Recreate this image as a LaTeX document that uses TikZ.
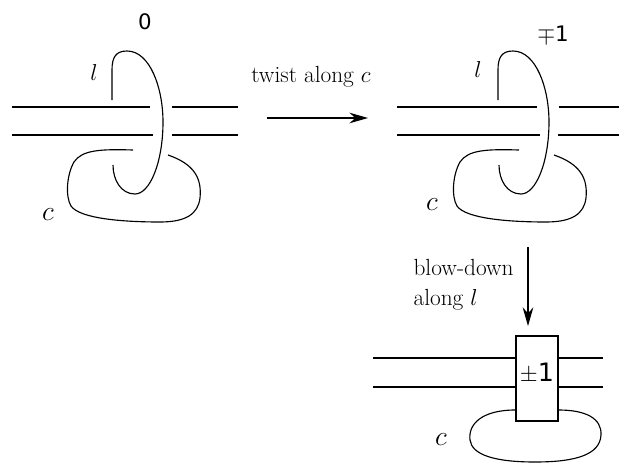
\documentclass[tikz,border=0pt]{standalone}
\usepackage{fontspec}
\newfontfamily\labelfont{DejaVu Sans}
\usetikzlibrary{arrows.meta}

\tikzset{every picture/.style={line width=0.85pt}}

\begin{document}
\begin{tikzpicture}[x=0.75pt,y=0.75pt,yscale=-1,xscale=1,
	txt/.style={inner sep=0pt,font=\fontsize{17.5}{22}\selectfont},
	frm/.style={inner sep=0pt,font=\labelfont\fontsize{16}{19}\selectfont},
	mvar/.style={inner sep=0pt,font=\fontsize{22}{26}\selectfont},
	move/.style={-{Stealth[length=14pt,width=8pt]}}]
	\useasboundingbox (0,0) rectangle (619,464);
	
	%Straight Lines (left picture)
	\draw (12,107) -- (150,107) (172,107) -- (238,107) ;
	\draw (12,135) -- (153,135) (172,135) -- (238,135) ;
	%Curve Lines (l)
	\draw (112,100) -- (112,70) .. controls (112,57) and (116,51) .. (127,51) .. controls (150,51) and (163,88) .. (163,122) .. controls (163,162) and (150,194) .. (135,194) .. controls (121,194) and (113,180) .. (113,165) ;
	%Curve Lines (c)
	\draw (133,150) .. controls (100,149) and (82,150) .. (74,162) .. controls (67,174) and (65,196) .. (71,206) .. controls (80,219) and (125,222) .. (160,222) .. controls (186,222) and (198,214) .. (200,198) .. controls (202,178) and (194,164) .. (168,155) ;
	
	%Straight Lines (right picture)
	\draw (397,107) -- (537,107) (559,107) -- (619,107) ;
	\draw (397,135) -- (540,135) (558,135) -- (619,135) ;
	%Curve Lines (l)
	\draw (498,100) -- (498,70) .. controls (498,57) and (502,51) .. (513,51) .. controls (536,51) and (549,88) .. (549,122) .. controls (549,162) and (536,194) .. (521,194) .. controls (507,194) and (499,180) .. (499,165) ;
	%Curve Lines (c)
	\draw (519,150) .. controls (486,149) and (468,150) .. (460,162) .. controls (453,174) and (451,196) .. (457,206) .. controls (466,219) and (511,222) .. (546,222) .. controls (572,222) and (584,214) .. (586,198) .. controls (588,178) and (580,164) .. (554,155) ;
	
	% Box Node
	\node [draw,inner sep=0pt,minimum width=31.5pt,minimum height=63.75pt] (twistbox) at (537,378.5) {};
	\node [frm,font=\labelfont\fontsize{19}{22}\selectfont] (twistnum) at (537,373) {$\pm$1};
	%Straight Lines (bottom picture)
	\draw (373,358) -- (twistbox.west |- 0,358) (twistbox.east |- 0,358) -- (603,358) ;
	\draw (373,387) -- (twistbox.west |- 0,387) (twistbox.east |- 0,387) -- (603,387) ;
	%Curve Lines (c)
	\draw (twistbox.west |- 0,410) .. controls (482,410) and (468,424) .. (470,440) .. controls (472,455) and (495,462) .. (535,462) .. controls (575,462) and (600,455) .. (601,435) .. controls (602,418) and (585,410) .. (twistbox.east |- 0,410) ;
	
	%Arrows
	\coordinate (twistS) at (267,118);
	\coordinate (twistE) at (368,118);
	\draw [move] (twistS) -- (twistE) ;
	\coordinate (blowS) at (528,247);
	\coordinate (blowE) at (528,326);
	\draw [move] (blowS) -- (blowE) ;
	
	% Text Node
	\node [frm] (frameA) at (145,22) {0};
	% Text Node
	\node [frm] (frameB) at (553,35) {$\mp$1};
	% Text Node
	\node [txt,font=\fontsize{19}{22}\selectfont] (lA) at (94,72) {$l$};
	% Text Node
	\node [txt,font=\fontsize{19}{22}\selectfont] (lB) at (478,69) {$l$};
	% Text Node
	\node [mvar] (cA) at (48,215) {$c$};
	% Text Node
	\node [mvar] (cB) at (432,205) {$c$};
	% Text Node
	\node [mvar] (cC) at (441,440) {$c$};
	% Text Node
	\node [txt,anchor=base] (twistlbl) at (311,82) {twist along $c$};
	% Text Node
	\node [txt,anchor=north west,align=left] (blowlbl) at (413,259) {blow-down\\along $l$};
	
\end{tikzpicture}
\end{document}
